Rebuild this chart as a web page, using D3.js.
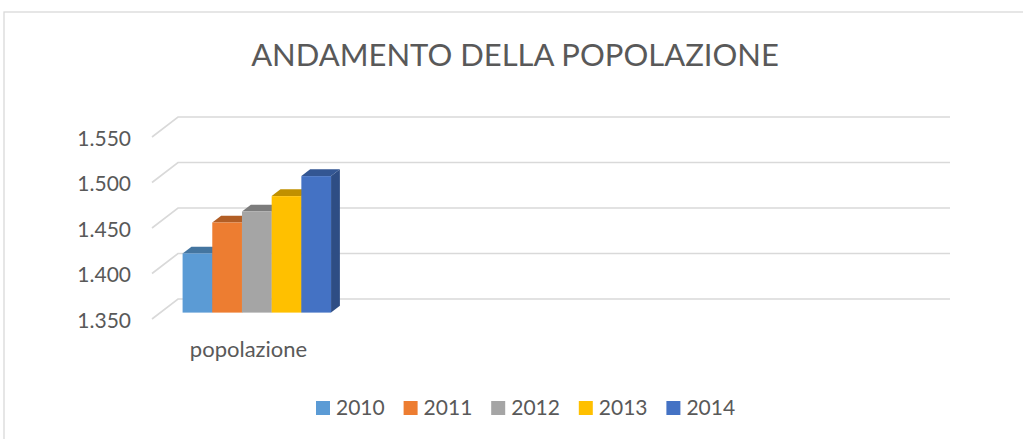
<!DOCTYPE html>
<html>
<head>
<meta charset="utf-8">
<script src="https://cdn.jsdelivr.net/npm/d3@7"></script>
<style>
  body { margin: 0; background: #fff; }
  svg text { font-family: Lato, "Open Sans", sans-serif; fill: #595959; }
</style>
</head>
<body>
<svg id="chart"></svg>
<script>
const categories = ['popolazione', '', '', ''];
const years = ['2010', '2011', '2012', '2013', '2014'];
const values = [1415, 1449, 1461, 1478, 1500];
const colors = ['#5B9BD5', '#ED7D31', '#A5A5A5', '#FFC000', '#4472C4'];
const yTicks = [1350, 1400, 1450, 1500, 1550];

const width = 1023;
const height = 439;

const svg = d3.select('#chart')
    .attr('width', width)
    .attr('height', height);

// chart border
svg.append('rect')
    .attr('x', 4).attr('y', 12)
    .attr('width', 1100).attr('height', 500)
    .attr('fill', 'none')
    .attr('stroke', '#d9d9d9')
    .attr('stroke-width', 1.3);

svg.append('text')
    .attr('x', 515).attr('y', 66)
    .attr('text-anchor', 'middle')
    .style('font-size', '31px')
    .text('ANDAMENTO DELLA POPOLAZIONE');

// 3d projection: front plane + depth vector
const left = 152, right = 924;
const depth = { dx: 26, dy: -20 };
const proj = (x, y, f) => [x + depth.dx * f, y + depth.dy * f];

const y = d3.scaleLinear().domain([1350, 1550]).range([319, 137]);
const x0 = d3.scaleBand().domain(d3.range(categories.length)).range([left, right]);
const x1 = d3.scaleBand().domain(years).range([0, x0.bandwidth()]).paddingOuter(0.75);

// gridlines: side wall diagonals + back wall
const grid = svg.append('g')
    .attr('stroke', '#d9d9d9')
    .attr('stroke-width', 1.6)
    .attr('fill', 'none');

yTicks.forEach(t => {
    const a = proj(left, y(t), 0);
    const b = proj(left, y(t), 1);
    const c = proj(right, y(t), 1);
    grid.append('path').attr('d', d3.line()([a, b, c]));
});

svg.append('g').selectAll('text')
    .data(yTicks)
    .enter().append('text')
    .attr('x', 131)
    .attr('y', d => y(d) + 8.5)
    .attr('text-anchor', 'end')
    .style('font-size', '21px')
    .text(d => d3.format(',')(d).replace(',', '.'));

svg.append('g').selectAll('text')
    .data(categories)
    .enter().append('text')
    .attr('x', (d, i) => x0(i) + x0.bandwidth() / 2)
    .attr('y', 357)
    .attr('text-anchor', 'middle')
    .style('font-size', '22px')
    .text(d => d);

// bars
const f0 = 0.32, f1 = 0.66;
const bars = svg.append('g');
years.forEach((yr, i) => {
    const xa = x0(0) + x1(yr);
    const xb = xa + x1.bandwidth();
    const yt = y(values[i]);
    const yb = y(1350);
    const c = d3.color(colors[i]);
    const g = bars.append('g');

    g.append('path')
        .attr('d', d3.line()([proj(xb, yb, f0), proj(xb, yb, f1), proj(xb, yt, f1), proj(xb, yt, f0)]) + 'Z')
        .attr('fill', c.darker(1.1));
    g.append('path')
        .attr('d', d3.line()([proj(xa, yt, f0), proj(xa, yt, f1), proj(xb, yt, f1), proj(xb, yt, f0)]) + 'Z')
        .attr('fill', c.darker(0.8));
    const p = proj(xa, yt, f0);
    g.append('rect')
        .attr('x', p[0])
        .attr('y', p[1])
        .attr('width', xb - xa)
        .attr('height', yb - yt)
        .attr('fill', colors[i]);
});

// legend
const lx = d3.scaleBand().domain(years).range([316, 316 + 87.6 * years.length]);
const legend = svg.append('g').selectAll('g')
    .data(years)
    .enter().append('g')
    .attr('transform', d => `translate(${lx(d)},401)`);

legend.append('rect')
    .attr('width', 14).attr('height', 14)
    .attr('fill', (d, i) => colors[i]);

legend.append('text')
    .attr('x', 20).attr('y', 14)
    .style('font-size', '21px')
    .text(d => d);
</script>
</body>
</html>
